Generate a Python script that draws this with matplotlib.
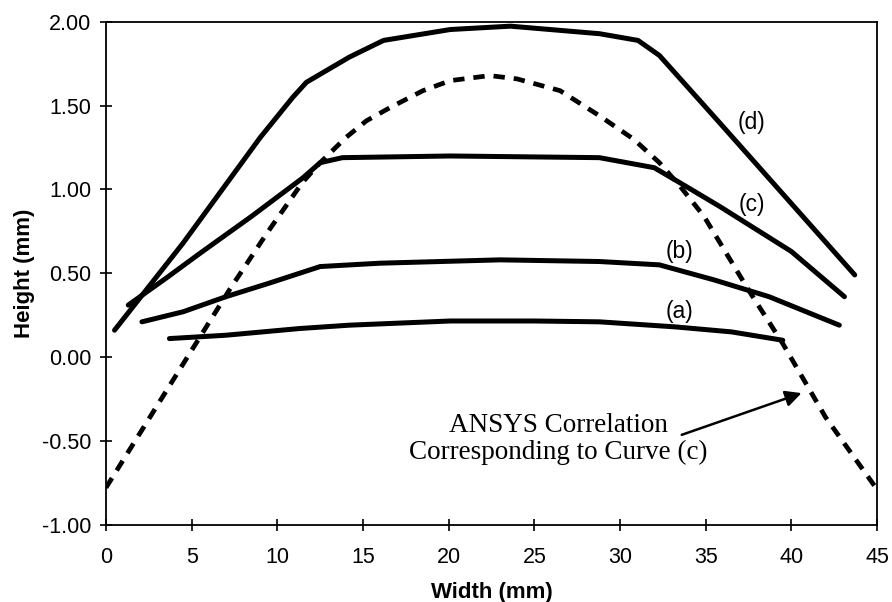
import matplotlib
matplotlib.use("Agg")
import matplotlib.pyplot as plt

# curve data (width mm, height mm)
a_x = [3.7, 7.0, 11.3, 14.2, 20.1, 25.0, 28.8, 33.2, 36.5, 39.5]
a_y = [0.11, 0.13, 0.17, 0.19, 0.215, 0.215, 0.21, 0.18, 0.15, 0.10]

b_x = [2.1, 4.5, 7.0, 9.5, 11.3, 12.5, 16.0, 23.0, 28.8, 32.3, 35.5, 38.7, 42.8]
b_y = [0.21, 0.27, 0.36, 0.44, 0.50, 0.54, 0.56, 0.58, 0.57, 0.55, 0.46, 0.36, 0.19]

c_x = [1.3, 3.5, 5.5, 8.5, 11.5, 12.5, 13.8, 20.1, 28.8, 32.0, 33.5, 35.8, 40.0, 43.1]
c_y = [0.31, 0.47, 0.62, 0.84, 1.07, 1.16, 1.19, 1.20, 1.19, 1.13, 1.04, 0.90, 0.63, 0.36]

d_x = [0.5, 4.5, 9.0, 10.9, 11.7, 14.2, 16.2, 20.1, 23.6, 28.8, 31.05, 32.3, 35.8, 43.7]
d_y = [0.16, 0.68, 1.31, 1.55, 1.64, 1.79, 1.89, 1.955, 1.975, 1.93, 1.89, 1.80, 1.40, 0.49]

ansys_x = [0.0, 5.0, 7.2, 9.4, 11.45, 12.5, 14.0, 15.2, 16.6, 18.5, 20.1, 22.4, 24.0,
           26.5, 28.8, 30.8, 32.3, 33.5, 34.9, 37.5, 39.5, 42.0, 45.0]
ansys_y = [-0.78, 0.04, 0.40, 0.74, 1.04, 1.16, 1.31, 1.41, 1.49, 1.59, 1.65, 1.68, 1.66,
           1.59, 1.44, 1.30, 1.16, 1.02, 0.84, 0.40, 0.08, -0.36, -0.79]

labels = ["(a)", "(b)", "(c)", "(d)"]
label_pos = [(33.45, 0.27), (33.45, 0.63), (37.7, 0.91), (37.7, 1.40)]

fig = plt.figure(figsize=(8.92, 6.02), dpi=100)
ax = fig.add_axes([0.1188, 0.1287, 0.8644, 0.8348])

for xs, ys in [(a_x, a_y), (b_x, b_y), (c_x, c_y), (d_x, d_y)]:
    ax.plot(xs, ys, color="black", lw=3.6, solid_capstyle="round", solid_joinstyle="round")
ax.plot(ansys_x, ansys_y, color="black", lw=3.4, linestyle=(0, (2.4, 1.9)))

for lab, (lx, ly) in zip(labels, label_pos):
    ax.text(lx, ly, lab, ha="center", va="center", fontsize=16.5,
            family="Liberation Sans")

ax.text(26.4, -0.49, "ANSYS Correlation\nCorresponding to Curve (c)", ha="center",
        va="center", fontsize=19.5, family="Liberation Serif", linespacing=1.1)
ax.annotate("", xy=(40.75, -0.21), xytext=(33.45, -0.47),
            arrowprops=dict(arrowstyle="-|>", color="black", lw=1.8,
                            mutation_scale=24))

ax.set_xlim(0, 45)
ax.set_ylim(-1.0, 2.0)
ax.set_xticks(range(0, 46, 5))
ax.set_yticks([-1.0, -0.5, 0.0, 0.5, 1.0, 1.5, 2.0])
ax.set_yticklabels(["%.2f" % v for v in ax.get_yticks()])
ax.tick_params(direction="inout", length=9, width=1.2, labelsize=15.5)
ax.tick_params(axis="x", pad=12)
ax.tick_params(axis="y", pad=6)
for t in ax.get_xticklabels() + ax.get_yticklabels():
    t.set_family("Liberation Sans")
for s in ax.spines.values():
    s.set_linewidth(1.3)

ax.set_xlabel("Width (mm)", fontsize=16, fontweight="bold", family="Liberation Sans", labelpad=10)
ax.set_ylabel("Height (mm)", fontsize=16, fontweight="bold", family="Liberation Sans", labelpad=5)

fig.savefig("out.png", dpi=100)
